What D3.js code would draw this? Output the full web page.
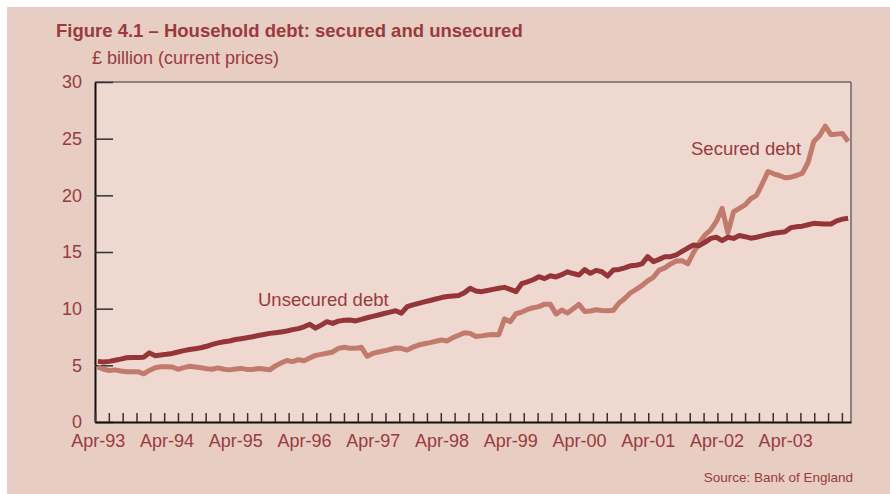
<!DOCTYPE html>
<html>
<head>
<meta charset="utf-8">
<script src="https://cdn.jsdelivr.net/npm/d3@7"></script>
<style>
  body { margin: 0; background: #ffffff; }
  text { font-family: "Liberation Sans", Arial, sans-serif; fill: #9b3a3e; }
</style>
</head>
<body>
<svg id="chart" width="890" height="494"></svg>
<script>
// etiquetas del eje x (un mes de abril por año)
var yearLabels = ["Apr-93", "Apr-94", "Apr-95", "Apr-96", "Apr-97", "Apr-98",
  "Apr-99", "Apr-00", "Apr-01", "Apr-02", "Apr-03"];
var yTicks = [0, 5, 10, 15, 20, 25, 30];

// deuda no garantizada, mensual, abr-93 .. mar-04 (£ bn)
var unsecured = [
  5.35, 5.30, 5.35, 5.45, 5.55, 5.67, 5.70, 5.70, 5.72, 6.10, 5.85, 5.92,
  5.97, 6.05, 6.18, 6.30, 6.40, 6.47, 6.55, 6.68, 6.85, 6.98, 7.08, 7.15,
  7.28, 7.35, 7.43, 7.52, 7.63, 7.72, 7.82, 7.88, 7.95, 8.03, 8.15, 8.24,
  8.40, 8.62, 8.28, 8.55, 8.85, 8.70, 8.90, 8.98, 9.00, 8.92, 9.05, 9.20,
  9.32, 9.44, 9.57, 9.70, 9.82, 9.60, 10.17, 10.33, 10.47, 10.60, 10.72, 10.85,
  10.98, 11.08, 11.12, 11.16, 11.40, 11.80, 11.56, 11.50, 11.60, 11.70, 11.80, 11.88,
  11.70, 11.50, 12.20, 12.37, 12.55, 12.82, 12.65, 12.90, 12.80, 13.00, 13.25, 13.10,
  12.97, 13.45, 13.12, 13.38, 13.26, 12.88, 13.41, 13.46, 13.60, 13.78, 13.83, 13.95,
  14.59, 14.15, 14.35, 14.59, 14.59, 14.75, 15.05, 15.35, 15.62, 15.56, 15.85, 16.20,
  16.30, 16.00, 16.30, 16.20, 16.45, 16.35, 16.22, 16.30, 16.42, 16.55, 16.65, 16.72,
  16.79, 17.15, 17.22, 17.28, 17.40, 17.53, 17.50, 17.48, 17.47, 17.75, 17.90, 17.97
];

// deuda garantizada, mensual, abr-93 .. mar-04 (£ bn)
var secured = [
  4.85, 4.65, 4.55, 4.60, 4.50, 4.44, 4.44, 4.44, 4.25, 4.55, 4.78, 4.88,
  4.88, 4.85, 4.65, 4.80, 4.92, 4.85, 4.78, 4.70, 4.65, 4.77, 4.65, 4.60,
  4.68, 4.73, 4.64, 4.63, 4.72, 4.68, 4.60, 4.95, 5.20, 5.42, 5.33, 5.50,
  5.40, 5.65, 5.88, 5.97, 6.07, 6.18, 6.50, 6.60, 6.50, 6.50, 6.60, 5.80,
  6.05, 6.18, 6.28, 6.40, 6.53, 6.50, 6.35, 6.60, 6.79, 6.90, 7.00, 7.12,
  7.24, 7.15, 7.45, 7.65, 7.88, 7.82, 7.55, 7.60, 7.68, 7.73, 7.70, 9.10,
  8.85, 9.55, 9.70, 9.93, 10.08, 10.18, 10.40, 10.38, 9.52, 9.88, 9.62, 10.00,
  10.38, 9.75, 9.80, 9.90, 9.83, 9.82, 9.85, 10.50, 10.90, 11.40, 11.70, 12.05,
  12.45, 12.77, 13.40, 13.60, 13.95, 14.20, 14.22, 13.96, 14.95, 15.80, 16.50, 16.95,
  17.70, 18.85, 16.70, 18.55, 18.85, 19.15, 19.70, 20.00, 21.00, 22.10, 21.90, 21.75,
  21.55, 21.60, 21.75, 21.95, 22.90, 24.75, 25.25, 26.10, 25.35, 25.40, 25.45, 24.75
];

var width = 890, height = 494;
var margin = { top: 82, right: 39, bottom: 72, left: 95 };
var tickStep = 2.415; // separación de las marcas pequeñas del eje x (meses)

var svg = d3.select("#chart");

// fondo exterior y área del gráfico
svg.append("rect")
  .attr("x", 7).attr("y", 7)
  .attr("width", width - 7).attr("height", height - 7)
  .attr("fill", "#e7cdc2");

svg.append("rect")
  .attr("x", margin.left).attr("y", margin.top)
  .attr("width", width - margin.left - margin.right)
  .attr("height", height - margin.top - margin.bottom)
  .attr("fill", "#eed8d0");

var xScale = d3.scaleLinear()
  .domain([0, unsecured.length])
  .range([margin.left, width - margin.right]);

var yScale = d3.scaleLinear()
  .domain([0, 30])
  .range([height - margin.bottom, margin.top]);

// bordes superior y derecho
svg.append("line")
  .attr("x1", margin.left).attr("x2", width - margin.right)
  .attr("y1", margin.top).attr("y2", margin.top)
  .attr("stroke", "#6f6464").attr("stroke-width", 1.5);
svg.append("line")
  .attr("x1", width - margin.right).attr("x2", width - margin.right)
  .attr("y1", margin.top).attr("y2", height - margin.bottom)
  .attr("stroke", "#6f6464").attr("stroke-width", 1.5);

// eje y con marcas hacia dentro
var yAxis = d3.axisLeft(yScale)
  .tickValues(yTicks)
  .tickSize(-18)
  .tickSizeOuter(0)
  .tickPadding(13);

var gy = svg.append("g")
  .attr("class", "y axis")
  .attr("transform", "translate(" + margin.left + ",0)")
  .call(yAxis);
gy.select(".domain").attr("stroke", "#111").attr("stroke-width", 2);
gy.selectAll(".tick line").attr("stroke", "#333").attr("stroke-width", 1.5);
gy.selectAll(".tick text").attr("font-size", 18);

// marcas pequeñas del eje x
var xAxis = d3.axisBottom(xScale)
  .tickValues(d3.range(0, unsecured.length, tickStep))
  .tickSize(-9)
  .tickSizeOuter(0)
  .tickFormat("");

var gx = svg.append("g")
  .attr("class", "x axis")
  .attr("transform", "translate(0," + (height - margin.bottom) + ")")
  .call(xAxis);
gx.select(".domain").attr("stroke", "#111").attr("stroke-width", 2);
gx.selectAll(".tick line").attr("stroke", "#333").attr("stroke-width", 1.5);

// etiquetas de años, centradas en el mes de abril
var xLabels = d3.axisBottom(xScale)
  .tickValues(yearLabels.map(function (d, i) { return i * 12 + 0.5; }))
  .tickSize(0)
  .tickPadding(12)
  .tickFormat(function (d, i) { return yearLabels[i]; });

var gl = svg.append("g")
  .attr("transform", "translate(0," + (height - margin.bottom) + ")")
  .call(xLabels);
gl.select(".domain").remove();
gl.selectAll(".tick text").attr("font-size", 18);

// líneas
var line = d3.line()
  .x(function (d, i) { return xScale(i + 0.5); })
  .y(function (d) { return yScale(d); });

svg.append("path")
  .datum(secured)
  .attr("d", line)
  .attr("fill", "none")
  .attr("stroke", "#c27a6d")
  .attr("stroke-width", 5)
  .attr("stroke-linejoin", "round");

svg.append("path")
  .datum(unsecured)
  .attr("d", line)
  .attr("fill", "none")
  .attr("stroke", "#953538")
  .attr("stroke-width", 5)
  .attr("stroke-linejoin", "round");

// textos
svg.append("text")
  .attr("x", 56).attr("y", 37)
  .attr("font-size", 18.5)
  .attr("font-weight", "bold")
  .text("Figure 4.1 – Household debt: secured and unsecured");

svg.append("text")
  .attr("x", 92).attr("y", 64)
  .attr("font-size", 18)
  .text("£ billion (current prices)");

svg.append("text")
  .attr("x", 258).attr("y", 306)
  .attr("font-size", 18.5)
  .text("Unsecured debt");

svg.append("text")
  .attr("x", 691).attr("y", 155)
  .attr("font-size", 18.5)
  .text("Secured debt");

svg.append("text")
  .attr("x", 853).attr("y", 482)
  .attr("text-anchor", "end")
  .attr("font-size", 13.5)
  .text("Source: Bank of England");
</script>
</body>
</html>
